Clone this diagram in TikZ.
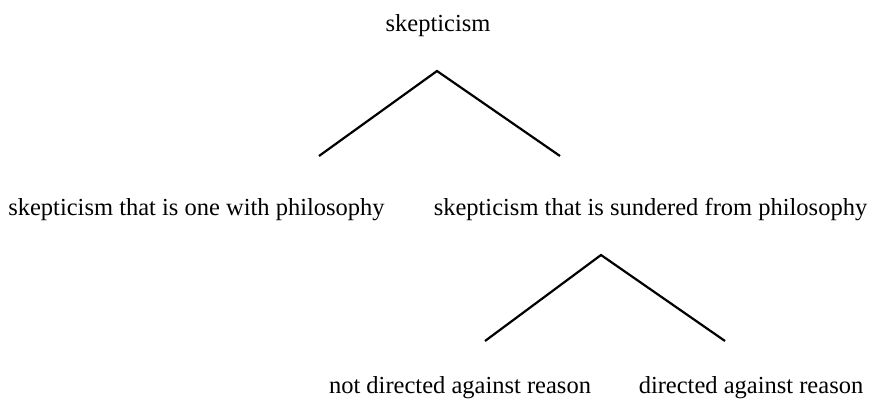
\documentclass[tikz,border=0pt]{standalone}
\usepackage{fontspec}
\setmainfont{Liberation Serif}
\begin{document}
\begin{tikzpicture}[x=1pt,y=-1pt,
  lbl/.style={inner sep=0pt,anchor=base,font=\fontsize{24.5}{28}\selectfont},
  edge/.style={line width=2.2pt}]
\useasboundingbox (0,0) rectangle (875,399);
\node[lbl] (root) at (438,31) {skepticism};
\node[lbl] (one) at (196.5,215) {skepticism that is one with philosophy};
\node[lbl] (sund) at (650.5,215) {skepticism that is sundered from philosophy};
\node[lbl] (not) at (460,393) {not directed against reason};
\node[lbl] (dir) at (751,393) {directed against reason};
\coordinate (r) at (437,71);
\coordinate (ra) at (319,156);
\coordinate (rb) at (560,156);
\coordinate (s) at (601,255);
\coordinate (sa) at (485,341);
\coordinate (sb) at (725,341);
\draw[edge] (ra) -- (r) -- (rb);
\draw[edge] (sa) -- (s) -- (sb);
\end{tikzpicture}
\end{document}
